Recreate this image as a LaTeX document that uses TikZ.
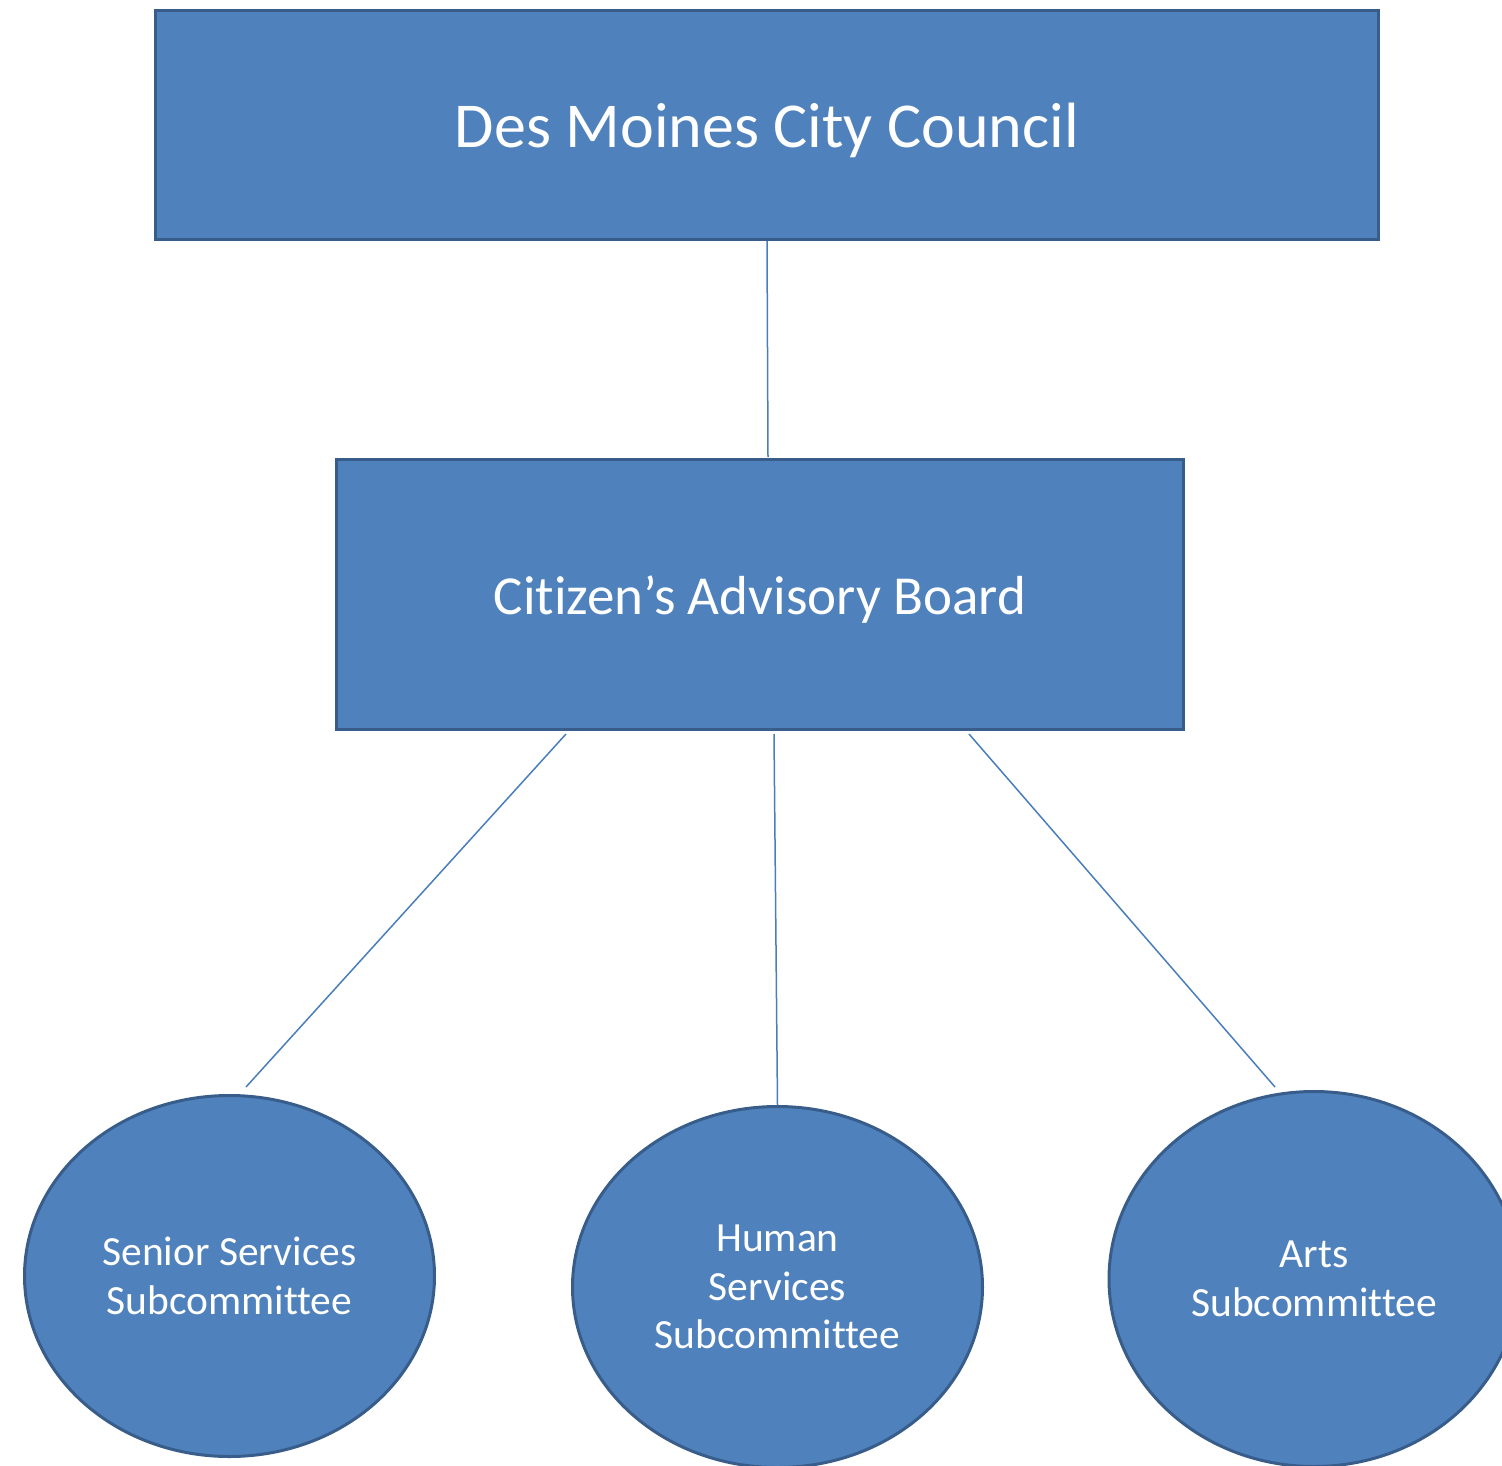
\documentclass[tikz,border=0pt]{standalone}
\usepackage{fontspec}
\setmainfont[Ligatures=NoCommon]{Carlito}
\usetikzlibrary{shapes.geometric}
\definecolor{boxfill}{HTML}{4F81BD}
\definecolor{boxline}{HTML}{385D8A}
\definecolor{conn}{HTML}{4A7EBB}
\tikzset{
  orgbox/.style={rectangle, draw=boxline, fill=boxfill, line width=3pt, text=white, inner sep=0pt, text depth=0pt},
  orgoval/.style={ellipse, draw=boxline, fill=boxfill, line width=3pt, text=white, inner sep=0pt, align=center,
    font=\fontsize{41.5}{48.8}\selectfont, minimum width=410pt},
  link/.style={draw=conn, line width=1.5pt}
}
\begin{document}
\begin{tikzpicture}[x=1pt,y=-1pt]
\useasboundingbox (0,0) rectangle (1502,1465);
\node[orgbox, minimum width=1223pt, minimum height=229pt, text height=44pt, font=\fontsize{64}{77}\selectfont] (council) at (767,125) {Des Moines City Council};
\node[orgbox, minimum width=847pt, minimum height=270pt, text height=39pt, font=\fontsize{55}{66}\selectfont] (cab) at (760,594.5) {Citizen’s Advisory Board};
\node[orgoval, minimum height=361pt] (senior) at (229.5,1276) {Senior Services\\Subcommittee};
\node[orgoval, minimum height=361pt] (human) at (777.5,1287) {Human\\Services\\Subcommittee};
\node[orgoval, minimum height=375pt] (arts) at (1314,1279) {Arts\\Subcommittee};
\coordinate (c1) at (767,241);
\coordinate (c2) at (768,457);
\coordinate (s1) at (566,734);
\coordinate (s2) at (246,1087);
\coordinate (h1) at (774,734);
\coordinate (a1) at (969,734);
\coordinate (a2) at (1275,1087);
\draw[link] (c1) -- (c2);
\draw[link] (s1) -- (s2);
\draw[link] (h1) -- (human.north);
\draw[link] (a1) -- (a2);
\end{tikzpicture}
\end{document}
